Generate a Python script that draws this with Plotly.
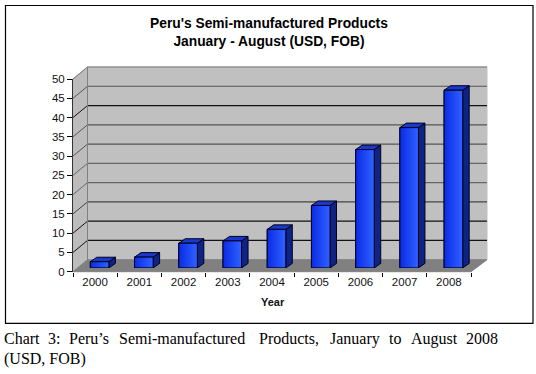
import plotly.graph_objects as go

years = ["2000", "2001", "2002", "2003", "2004", "2005", "2006", "2007", "2008"]
values = [1.6, 2.8, 6.4, 7.0, 10.0, 16.2, 30.7, 36.4, 46.1]
y_ticks = [0, 5, 10, 15, 20, 25, 30, 35, 40, 45, 50]
grid_colors = ["#555555", "#111111", "#111111", "#444444", "#666666", "#666666",
               "#555555", "#555555", "#111111", "#555555", "#777777"]
title_text = "<b>Peru's Semi-manufactured Products<br>January - August (USD, FOB)</b>"
caption_words = [("Chart", 2), ("3:", 46), ("Peru’s", 67), ("Semi-manufactured", 117),
                 ("Products,", 257), ("January", 328), ("to", 387), ("August", 409), ("2008", 464)]
caption_line2 = "(USD, FOB)"

W, H = 536, 374
L, R, T, B = 73.0, 471.0, 79.0, 271.7   # front plane of the plot box, px
DX, DY = 14.5, -12.0                    # full depth of the box, px
BX, BY = 4.5, -3.8                      # front of bars relative to front plane, px
SX, SY = 6.5, -4.5                      # depth of a bar, px
BAR_W = 0.42


def px(x):
    return x / W


def py(y):
    return 1 - y / H


def poly(pts, fill, line=None):
    path = "M " + " L ".join(f"{px(x):.5f} {py(y):.5f}" for x, y in pts) + " Z"
    return dict(type="path", xref="paper", yref="paper", path=path, fillcolor=fill,
                line=dict(color=line or fill, width=1), layer="below")


unit_y = (B - T) / 50
unit_x = (R - L) / len(years)
shapes = [
    dict(type="rect", xref="paper", yref="paper", x0=px(5.5), x1=px(533), y0=py(323.3), y1=py(5.5),
         fillcolor="white", line=dict(color="#000000", width=1.2), layer="below"),
    poly([(L + DX, T + DY), (R + DX + 1.5, T + DY), (R + DX + 1.5, B + DY), (L + DX, B + DY)], "#c0c0c0"),
    poly([(L, T), (L + DX, T + DY), (L + DX, B + DY), (L, B)], "#bcbcbc"),
    poly([(L, B), (L + DX, B + DY), (R + DX + 1.5, B + DY), (R, B)], "#808080"),
]
for v, c in zip(y_ticks, grid_colors):
    yy = B - v * unit_y
    if v > 0:
        shapes.append(dict(type="line", xref="paper", yref="paper", x0=px(L), y0=py(yy),
                           x1=px(L + DX), y1=py(yy + DY), line=dict(color=c, width=1), layer="below"))
        shapes.append(dict(type="line", xref="paper", yref="paper", x0=px(L + DX), y0=py(yy + DY),
                           x1=px(R + DX + 1.5), y1=py(yy + DY), line=dict(color=c, width=1.2), layer="below"))
shapes.append(dict(type="line", xref="paper", yref="paper", x0=px(L + DX), y0=py(T + DY), x1=px(L + DX),
                   y1=py(B + DY), line=dict(color="#808080", width=1), layer="below"))

fig = go.Figure()
idx = list(range(len(years)))

# Axis frame with ticks and labels (front plane)
fig.add_trace(go.Scatter(x=years, y=[None] * len(years), xaxis="x", yaxis="y",
                         showlegend=False, hoverinfo="skip"))

# Bars on a second axis pair, shifted to the depth at which they stand
fig.add_trace(go.Bar(x=idx, y=values, width=BAR_W, xaxis="x2", yaxis="y2",
                     marker=dict(color="#1f48f0", line=dict(color="#000020", width=1)),
                     showlegend=False, hoverinfo="skip"))

sx = SX / unit_x
sy = -SY / unit_y
for i, v in zip(idx, values):
    x0, x1 = i - BAR_W / 2, i + BAR_W / 2
    fig.add_trace(go.Scatter(x=[x1, x1 + sx, x1 + sx, x1, x1], y=[0, sy, v + sy, v, 0], xaxis="x2", yaxis="y2",
                             mode="lines", fill="toself", fillcolor="#0f2384",
                             line=dict(color="#000020", width=1), showlegend=False, hoverinfo="skip"))
    fig.add_trace(go.Scatter(x=[x0, x0 + sx, x1 + sx, x1, x0], y=[v, v + sy, v + sy, v, v], xaxis="x2", yaxis="y2",
                             mode="lines", fill="toself", fillcolor="#1a39c8",
                             line=dict(color="#000020", width=1), showlegend=False, hoverinfo="skip"))
    fig.add_trace(go.Scatter(x=[x0, x1, x1, x0, x0], y=[0, 0, v, v, 0], xaxis="x2", yaxis="y2",
                             mode="lines", fill="toself",
                             fillgradient=dict(type="horizontal",
                                               colorscale=[[0, "#0a2be6"], [1, "#2f62ff"]]),
                             line=dict(color="#000020", width=1), showlegend=False, hoverinfo="skip"))

annotations = [
    dict(text=title_text, x=px(269), y=py(32), xref="paper", yref="paper", showarrow=False,
         font=dict(family="Liberation Sans", size=13.8, color="#000000"), xanchor="center", yanchor="middle"),
    dict(text="<b>Year</b>", x=px(273), y=py(302), xref="paper", yref="paper", showarrow=False,
         font=dict(family="Liberation Sans", size=11, color="#111111"), xanchor="center", yanchor="middle"),
    dict(text=caption_line2, x=px(1.5), y=py(359), xref="paper", yref="paper", showarrow=False,
         font=dict(family="Liberation Serif", size=16, color="#000000"), xanchor="left", yanchor="middle"),
]
for word, x in caption_words:
    annotations.append(dict(text=word, x=px(x), y=py(338.5), xref="paper", yref="paper", showarrow=False,
                            font=dict(family="Liberation Serif", size=16, color="#000000"),
                            xanchor="left", yanchor="middle"))

font = dict(family="Liberation Sans", size=11.5, color="#111111")
fig.update_layout(
    width=W, height=H, margin=dict(l=0, r=0, t=0, b=0, pad=0, autoexpand=False), showlegend=False,
    paper_bgcolor="white", plot_bgcolor="rgba(0,0,0,0)", shapes=shapes, annotations=annotations,
    xaxis=dict(domain=[px(L), px(R)], type="category", categoryorder="array", categoryarray=years,
               range=[-0.5, 8.5], tickson="boundaries", ticks="outside", ticklen=4, tickcolor="#000000",
               ticklabelstandoff=2,
               showline=False, showgrid=False, zeroline=False, tickfont=font, anchor="y"),
    yaxis=dict(domain=[py(B), py(T)], range=[0, 50], tickvals=y_ticks, ticks="outside", ticklen=5,
               tickcolor="#000000", showline=True, linecolor="#333333", linewidth=1, showgrid=False,
               zeroline=False, tickfont=font, anchor="x"),
    xaxis2=dict(domain=[px(L + BX), px(R + BX)], range=[-0.5, 8.5], visible=False, anchor="y2"),
    yaxis2=dict(domain=[py(B + BY), py(T + BY)], range=[0, 50], visible=False, anchor="x2"),
)
fig.write_html("out.html", config=dict(displayModeBar=False),
               post_script="document.body.style.margin='0';document.body.style.overflow='hidden';")
